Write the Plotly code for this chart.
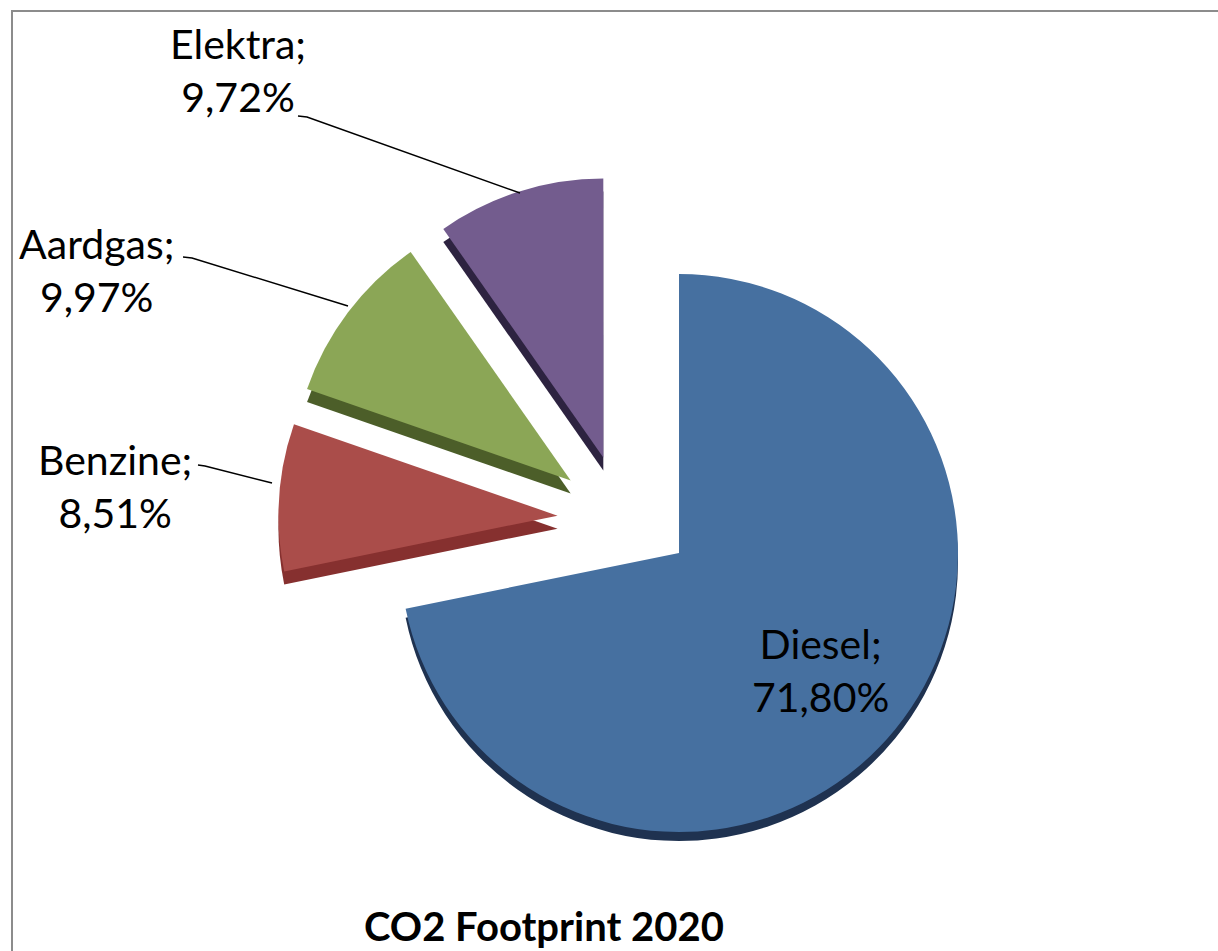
import plotly.graph_objects as go

# ---- data ----
labels = ["Diesel", "Benzine", "Aardgas", "Elektra"]
values = [71.80, 8.51, 9.97, 9.72]
title_text = "CO2 Footprint 2020"

# ---- style ----
top_colors = ["#4670A0", "#AA4D4A", "#8BA656", "#735C8E"]
side_colors = ["#1F3250", "#86302F", "#4C5E29", "#2D2340"]
CLEAR = "rgba(0,0,0,0)"
exploded = [False, True, True, True]
pull_amount = 0.235

W, H = 1218, 951


def px(x):
    return x / W


def py(y):
    return 1 - y / H


def fmt(v):
    return f"{v:.2f}%".replace(".", ",")


# pie geometry (pixels): centre, radius, depth, offset of the exploded group
cx, cy, r = 679, 553, 279
depth_main = 9
depth_expl = 13
shift_x, shift_y = -56, -33


def dom(ccx, ccy_top, maxpull):
    half = r * (1 + maxpull)
    cyb = H - ccy_top
    return dict(x=[(ccx - half) / W, (ccx + half) / W],
                y=[max(0, (cyb - half) / H), min(1, (cyb + half) / H)])


def pie(colors, pulls, domain, hover=True):
    return go.Pie(
        labels=labels, values=values, sort=False, direction="clockwise", rotation=0,
        pull=pulls, marker=dict(colors=colors, line=dict(width=0)),
        textinfo="none", hoverinfo="label+percent" if hover else "skip",
        showlegend=False, domain=domain,
    )


main_side = [c if not e else CLEAR for c, e in zip(side_colors, exploded)]
main_top = [c if not e else CLEAR for c, e in zip(top_colors, exploded)]
expl_side = [c if e else CLEAR for c, e in zip(side_colors, exploded)]
expl_top = [c if e else CLEAR for c, e in zip(top_colors, exploded)]
expl_pull = [pull_amount if e else 0 for e in exploded]
zero_pull = [0] * len(values)

fig = go.Figure()
fig.add_trace(pie(main_side, zero_pull, dom(cx, cy + depth_main, 0), hover=False))
fig.add_trace(pie(expl_side, expl_pull, dom(cx + shift_x, cy + shift_y + depth_expl, pull_amount), hover=False))
fig.add_trace(pie(main_top, zero_pull, dom(cx, cy, 0)))
fig.add_trace(pie(expl_top, expl_pull, dom(cx + shift_x, cy + shift_y, pull_amount)))

font = dict(family="Lato, 'Open Sans', sans-serif", size=41, color="#000000")

label_pos = {
    "Diesel": (820, 670),
    "Benzine": (115, 486),
    "Aardgas": (96, 270),
    "Elektra": (238, 70),
}
annotations = []
for lab, val in zip(labels, values):
    x, y = label_pos[lab]
    annotations.append(dict(
        x=px(x), y=py(y), xref="paper", yref="paper", xanchor="center", yanchor="middle",
        text=f"{lab};<br>{fmt(val)}", showarrow=False, font=font, align="center",
    ))
annotations.append(dict(
    x=px(544), y=py(926), xref="paper", yref="paper", xanchor="center", yanchor="middle",
    text=f"<b>{title_text}</b>", showarrow=False,
    font=dict(family="Lato, 'Open Sans', sans-serif", size=40, color="#000000"),
))

leaders = {
    "Elektra": [(298, 116), (307, 117), (520, 193)],
    "Aardgas": [(183, 257), (192, 258), (348, 306)],
    "Benzine": [(198, 465), (205, 466), (272, 483)],
}
shapes = [dict(type="rect", xref="paper", yref="paper",
               x0=px(12), y0=py(11), x1=px(W + 20), y1=py(H + 20),
               line=dict(color="#8C8C8C", width=2), fillcolor="rgba(0,0,0,0)")]
for lab, pts in leaders.items():
    path = "M " + " L ".join(f"{px(a):.5f},{py(b):.5f}" for a, b in pts)
    shapes.append(dict(type="path", xref="paper", yref="paper", path=path,
                       line=dict(color="#000000", width=1.5)))

fig.update_layout(
    width=W, height=H, margin=dict(l=0, r=0, t=0, b=0),
    paper_bgcolor="#FFFFFF", plot_bgcolor="#FFFFFF",
    annotations=annotations, shapes=shapes, showlegend=False,
)

fig.write_html(
    "out.html",
    config={"displayModeBar": False},
    post_script="document.body.style.margin='0';document.body.style.overflow='hidden';",
)
